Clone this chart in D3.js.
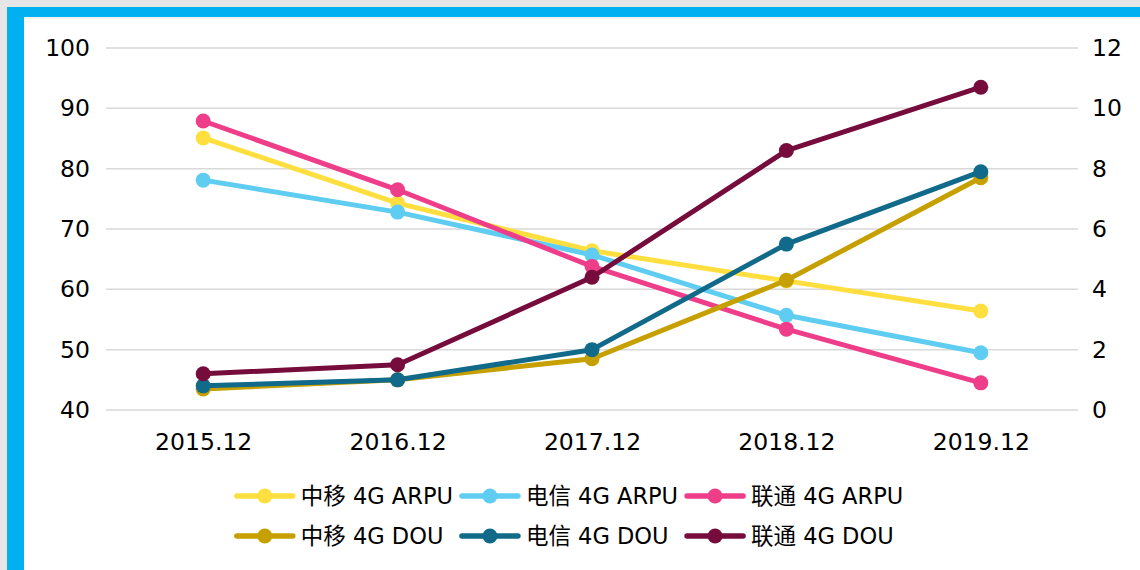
<!DOCTYPE html>
<html>
<head>
<meta charset="utf-8">
<script src="https://cdn.jsdelivr.net/npm/d3@7"></script>
<style>
  html, body { margin: 0; padding: 0; background: #e6e6e6; }
  svg { display: block; font-family: "DejaVu Sans", "Noto Sans CJK SC", sans-serif; }
</style>
</head>
<body>
<script>
(function() {
  const categories = ['2015.12', '2016.12', '2017.12', '2018.12', '2019.12'];
  const cmArpu = [85.1, 74.3, 66.4, 61.4, 56.4];
  const ctArpu = [78.1, 72.8, 65.7, 55.7, 49.5];
  const cuArpu = [87.9, 76.5, 63.8, 53.4, 44.5];
  const cmDou = [0.7, 1.0, 1.7, 4.3, 7.7];
  const ctDou = [0.8, 1.0, 2.0, 5.5, 7.9];
  const cuDou = [1.2, 1.5, 4.4, 8.6, 10.7];
  const leftTicks = [40, 50, 60, 70, 80, 90, 100];
  const rightTicks = [0, 2, 4, 6, 8, 10, 12];

  const series = [
    { name: '中移 4G ARPU', values: cmArpu, axis: 'left', color: '#ffdf3f' },
    { name: '电信 4G ARPU', values: ctArpu, axis: 'left', color: '#5fcdf1' },
    { name: '联通 4G ARPU', values: cuArpu, axis: 'left', color: '#ee3e8a' },
    { name: '中移 4G DOU', values: cmDou, axis: 'right', color: '#c5a000' },
    { name: '电信 4G DOU', values: ctDou, axis: 'right', color: '#116a89' },
    { name: '联通 4G DOU', values: cuDou, axis: 'right', color: '#760c3c' }
  ];

  const width = 1140;
  const height = 570;
  const plot = { left: 106, right: 1078, top: 48, bottom: 410 };
  const fontSize = '23.5px';

  const svg = d3.select('body').append('svg').attr('width', width).attr('height', height);

  // frame: grey edge, blue border on top and left, white panel
  svg.append('rect').attr('x', 7).attr('y', 7).attr('width', width - 7).attr('height', height - 7).attr('fill', '#00b0f0');
  svg.append('rect').attr('x', 24).attr('y', 17).attr('width', width - 24).attr('height', height - 17).attr('fill', '#f2f2f2');
  svg.append('rect').attr('x', 24).attr('y', 19).attr('width', width - 24).attr('height', height - 19).attr('fill', '#ffffff');

  const x = d3.scalePoint()
    .domain(categories)
    .range([plot.left, plot.right])
    .padding(0.5);

  const yLeft = d3.scaleLinear().domain([40, 100]).range([plot.bottom, plot.top]);
  const yRight = d3.scaleLinear().domain([0, 12]).range([plot.bottom, plot.top]);

  // gridlines
  svg.append('g')
    .selectAll('line')
    .data(leftTicks)
    .enter()
    .append('line')
    .attr('x1', plot.left)
    .attr('x2', plot.right)
    .attr('y1', function(d) { return yLeft(d); })
    .attr('y2', function(d) { return yLeft(d); })
    .attr('stroke', '#d9d9d9')
    .attr('stroke-width', 1.5);

  const leftAxis = svg.append('g')
    .attr('transform', 'translate(' + (plot.left - 16) + ',0)')
    .call(d3.axisLeft(yLeft).tickValues(leftTicks).tickSize(0).tickPadding(0));

  const rightAxis = svg.append('g')
    .attr('transform', 'translate(' + (plot.right + 14) + ',0)')
    .call(d3.axisRight(yRight).tickValues(rightTicks).tickSize(0).tickPadding(0));

  const bottomAxis = svg.append('g')
    .attr('transform', 'translate(0,' + (plot.bottom + 32) + ')')
    .call(d3.axisBottom(x).tickSize(0).tickPadding(0));

  [leftAxis, rightAxis, bottomAxis].forEach(function(g) {
    g.select('.domain').remove();
    g.selectAll('text')
      .attr('fill', '#000')
      .style('font-size', fontSize)
      .style('font-family', '"DejaVu Sans", sans-serif');
  });
  bottomAxis.selectAll('text').attr('dy', '0.35em');

  const plotG = svg.append('g');
  series.forEach(function(s) {
    const yScale = s.axis === 'left' ? yLeft : yRight;
    const line = d3.line()
      .x(function(d, i) { return x(categories[i]); })
      .y(function(d) { return yScale(d); });
    const g = plotG.append('g');
    g.append('path')
      .datum(s.values)
      .attr('d', line)
      .attr('fill', 'none')
      .attr('stroke', s.color)
      .attr('stroke-width', 5)
      .attr('stroke-linejoin', 'round');
    g.selectAll('circle')
      .data(s.values)
      .enter()
      .append('circle')
      .attr('cx', function(d, i) { return x(categories[i]); })
      .attr('cy', function(d) { return yScale(d); })
      .attr('r', 7.5)
      .attr('fill', s.color);
  });

  // legend: 3 columns x 2 rows, centered
  const legend = svg.append('g');
  const items = legend.selectAll('g')
    .data(series)
    .enter()
    .append('g');
  items.append('line')
    .attr('x1', 0).attr('x2', 56)
    .attr('stroke', function(d) { return d.color; })
    .attr('stroke-width', 5.5)
    .attr('stroke-linecap', 'round');
  items.append('circle')
    .attr('cx', 28).attr('r', 7.5)
    .attr('fill', function(d) { return d.color; });
  items.append('text')
    .attr('x', 64)
    .attr('dy', '0.35em')
    .style('font-size', '22.5px')
    .attr('fill', '#000')
    .text(function(d) { return d.name; });

  const colW = [0, 0, 0];
  items.each(function(d, i) {
    const w = 64 + d3.select(this).select('text').node().getComputedTextLength();
    colW[i % 3] = Math.max(colW[i % 3], w);
  });
  const gap = 9;
  const total = colW[0] + colW[1] + colW[2] + gap * 2;
  const startX = width / 2 - total / 2;
  const colX = [startX, startX + colW[0] + gap, startX + colW[0] + colW[1] + gap * 2];
  items.attr('transform', function(d, i) {
    return 'translate(' + colX[i % 3] + ',' + (i < 3 ? 496 : 536) + ')';
  });
})();
</script>
</body>
</html>
